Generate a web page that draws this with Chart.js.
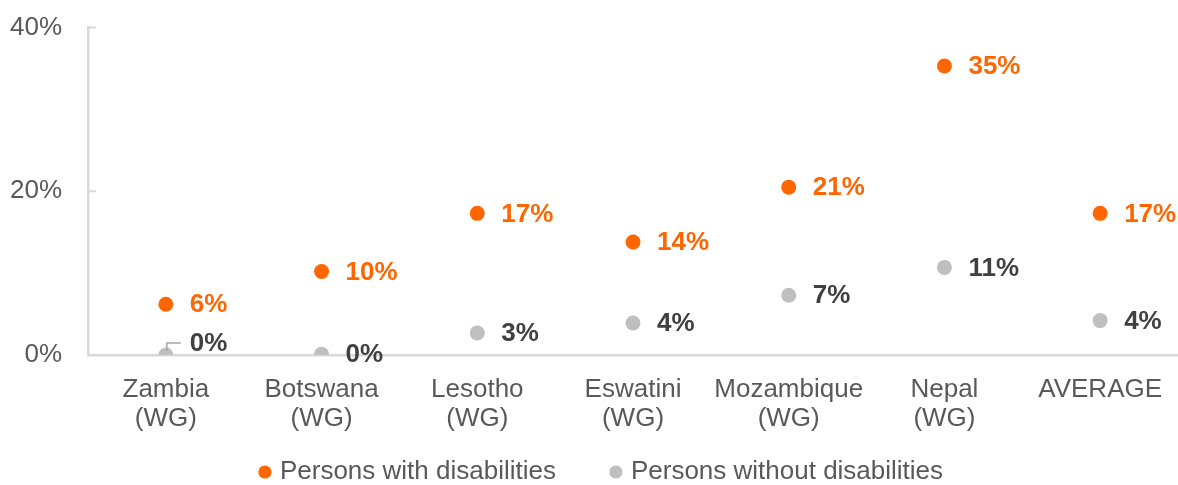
<!DOCTYPE html>
<html>
<head>
<meta charset="utf-8">
<script src="https://cdn.jsdelivr.net/npm/chart.js@4/dist/chart.umd.min.js"></script>
<style>
  html, body { margin: 0; padding: 0; background: #fff; overflow: hidden; }
  #wrap { width: 1178px; height: 485px; }
</style>
</head>
<body>
<div id="wrap"><canvas id="chart"></canvas></div>
<script>
// values (percent)
const categories = [
    ['Zambia', '(WG)'], ['Botswana', '(WG)'], ['Lesotho', '(WG)'], ['Eswatini', '(WG)'],
    ['Mozambique', '(WG)'], ['Nepal', '(WG)'], 'AVERAGE'
];
const withDisabilities = [6.2, 10.2, 17.3, 13.8, 20.5, 35.3, 17.3];
const withoutDisabilities = [0.0, 0.1, 2.7, 3.9, 7.3, 10.7, 4.2];
const yTicks = [0, 20, 40];

const ORANGE = '#ff6600';
const GREY = '#bfbfbf';
const AXIS = '#d9d9d9';
const TEXT = '#595959';
const FONT = 'Arial, "Liberation Sans", sans-serif';

// data labels to the right of each point; Zambia's 0% is nudged up with a leader line
const pointLabels = {
    id: 'pointLabels',
    afterDatasetsDraw(chart) {
        const ctx = chart.ctx;
        ctx.save();
        ctx.font = 'bold 26px ' + FONT;
        ctx.textBaseline = 'middle';
        ctx.textAlign = 'left';
        chart.data.datasets.forEach((ds, di) => {
            const meta = chart.getDatasetMeta(di);
            meta.data.forEach((pt, i) => {
                let dy = 0;
                if (di === 1 && i === 0) {
                    dy = -12;
                    ctx.strokeStyle = '#a6a6a6';
                    ctx.lineWidth = 1.5;
                    ctx.beginPath();
                    ctx.moveTo(pt.x + 1, pt.y - 4);
                    ctx.lineTo(pt.x + 1, pt.y - 12);
                    ctx.lineTo(pt.x + 15, pt.y - 12);
                    ctx.stroke();
                }
                ctx.fillStyle = di === 0 ? ORANGE : '#404040';
                ctx.fillText(Math.round(ds.data[i]) + '%', pt.x + 24, pt.y + dy + 1);
            });
        });
        ctx.restore();
    }
};

// small inward tick marks on the value axis
const innerTicks = {
    id: 'innerTicks',
    beforeDatasetsDraw(chart) {
        const y = chart.scales.y;
        const ctx = chart.ctx;
        ctx.save();
        ctx.strokeStyle = AXIS;
        ctx.lineWidth = 2;
        y.ticks.forEach((t, i) => {
            const py = y.getPixelForTick(i);
            ctx.beginPath();
            ctx.moveTo(y.right, py);
            ctx.lineTo(y.right + 8, py);
            ctx.stroke();
        });
        ctx.restore();
    }
};

// let the axis labels run past their boxes and nudge the legend
const layoutFix = {
    id: 'layoutFix',
    afterLayout(chart) {
        chart.scales.x.bottom = chart.height;
        chart.scales.y.left = 0;
        const lg = chart.legend;
        if (!lg) return;
        lg.left += 14; lg.right += 14;
        lg.top += 10; lg.bottom += 10;
    }
};

new Chart(document.getElementById('chart'), {
    type: 'line',
    data: {
        labels: categories,
        datasets: [{
            label: 'Persons with disabilities',
            data: withDisabilities,
            showLine: false,
            pointRadius: 7.5,
            pointHoverRadius: 7.5,
            pointBackgroundColor: ORANGE,
            pointBorderWidth: 0,
            backgroundColor: ORANGE,
            borderColor: ORANGE
        }, {
            label: 'Persons without disabilities',
            data: withoutDisabilities,
            showLine: false,
            pointRadius: 7.5,
            pointHoverRadius: 7.5,
            pointBackgroundColor: GREY,
            pointBorderWidth: 0,
            backgroundColor: GREY,
            borderColor: GREY
        }]
    },
    options: {
        responsive: true,
        maintainAspectRatio: false,
        animation: false,
        layout: { autoPadding: false, padding: { left: 0, right: 0, top: 27.5, bottom: 0 } },
        scales: {
            x: {
                offset: true,
                grid: { display: false, drawTicks: false },
                border: { color: AXIS, width: 2.5 },
                ticks: {
                    color: TEXT,
                    padding: 20,
                    maxRotation: 0,
                    autoSkip: false,
                    font: { family: FONT, size: 26, lineHeight: 1.13 }
                },
                afterFit: (scale) => {
                    scale.height = 36;
                    scale.paddingLeft = 0;
                    scale.paddingRight = 0;
                }
            },
            y: {
                min: 0,
                max: 40,
                afterBuildTicks: (scale) => { scale.ticks = yTicks.map(v => ({ value: v })); },
                grid: { display: false, drawTicks: false },
                border: { color: AXIS, width: 2.5 },
                ticks: {
                    color: TEXT,
                    padding: 26,
                    callback: (v) => v + '%',
                    font: { family: FONT, size: 26 }
                },
                afterFit: (scale) => {
                    scale.width = 88;
                    scale.paddingTop = 0;
                    scale.paddingBottom = 0;
                }
            }
        },
        plugins: {
            legend: {
                position: 'bottom',
                labels: {
                    usePointStyle: true,
                    pointStyle: 'circle',
                    boxWidth: 4,
                    boxHeight: 9.3,
                    padding: 58,
                    color: TEXT,
                    font: { family: FONT, size: 26 }
                }
            },
            tooltip: { enabled: false }
        }
    },
    plugins: [pointLabels, innerTicks, layoutFix]
});
</script>
</body>
</html>
